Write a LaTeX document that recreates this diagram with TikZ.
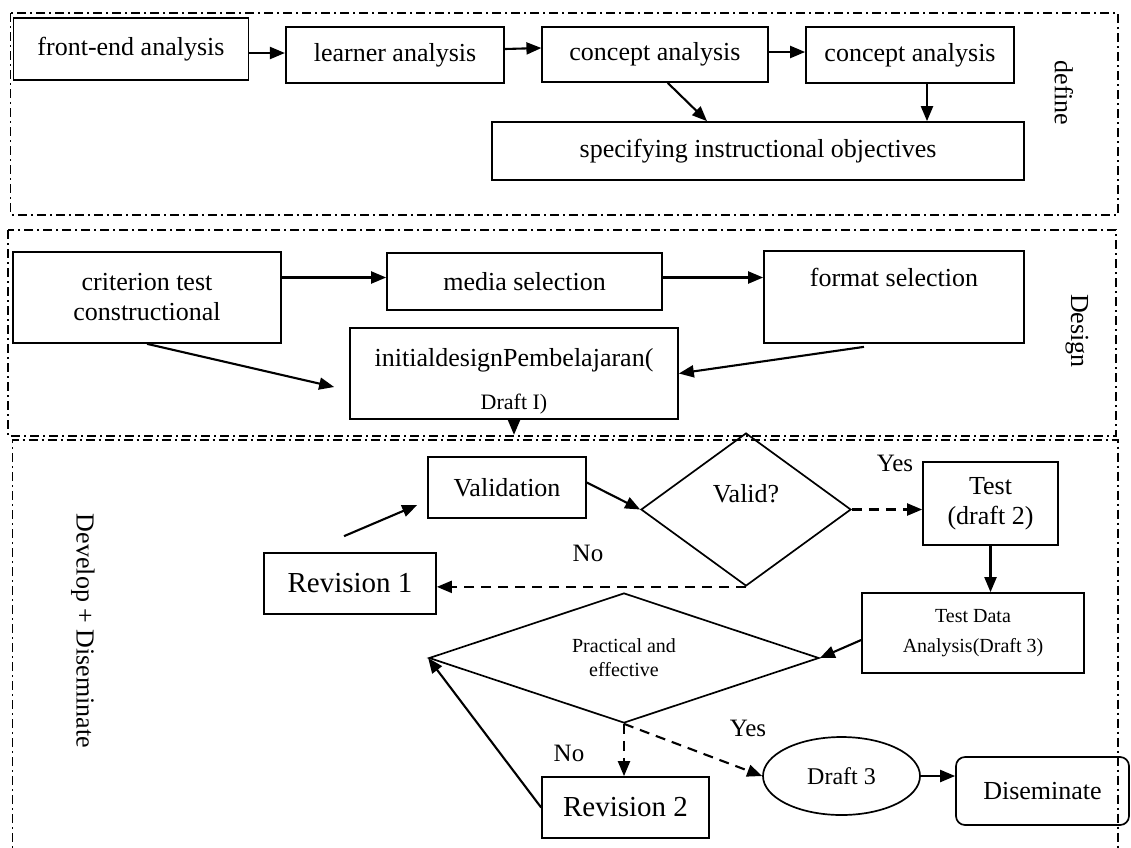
\documentclass[tikz,border=0pt]{standalone}
\usepackage{fontspec}
\setmainfont{Liberation Serif}
\usetikzlibrary{arrows.meta,shapes.geometric,calc}
\begin{document}
\begin{tikzpicture}[x=1pt,y=-1pt,
  every node/.style={font=\fontsize{26pt}{30pt}\selectfont, inner sep=0pt},
  box/.style={draw, line width=1.7pt, rectangle},
  dia/.style={draw, shape=diamond, line width=1.7pt, inner sep=0pt},
  frame/.style={line width=1.3pt, dash pattern=on 9pt off 4pt on 2pt off 4pt},
  arr/.style={line width=2.1pt, -{Triangle[length=15pt,width=12pt]}},
  darr/.style={arr, dash pattern=on 10pt off 7pt},
  lbl/.style={font=\fontsize{25pt}{30pt}\selectfont},
  big/.style={font=\fontsize{29pt}{34pt}\selectfont},
  small/.style={font=\fontsize{20pt}{30pt}\selectfont}
]
\fill[white] (0,0) rectangle (1131,847);
\useasboundingbox (0,0) rectangle (1131,847);

% ---------- frames ----------
\draw[frame] (10.8,13) rectangle (1118,215);
\draw[frame] (8,230) rectangle (1116,436);
\draw[frame] (12.6,880) -- (12.6,440) -- (1118,440) -- (1118,880);

% ---------- define ----------
\node[box, minimum width=235pt, minimum height=62pt] (front) at (131,49) {front-end analysis};
\node[box, minimum width=218.5pt, minimum height=56pt] (learner) at (395,55) {learner analysis};
\node[box, minimum width=225.5pt, minimum height=55pt] (ca1) at (655,54.5) {concept analysis};
\node[box, minimum width=208pt, minimum height=56pt] (ca2) at (910,55) {concept analysis};
\node[box, minimum width=532.5pt, minimum height=58pt] (spec) at (758,151) {specifying instructional objectives};
\node[rotate=-90] (define) at (1064,93) {define};

\draw[arr] ($(front.east)+(0,4)$) -- ($(learner.west)+(0,-2)$);
\draw[arr] ($(learner.east)+(0,-6)$) -- ($(ca1.west)+(0,-6.5)$);
\draw[arr] ($(ca1.east)+(0,-2.5)$) -- ($(ca2.west)+(0,-3)$);
\coordinate (c1s) at ($(ca1.south)+(12.7,0)$);
\coordinate (spn) at ($(spec.north)+(-51,0)$);
\draw[arr] (c1s) -- (spn);
\coordinate (c2s) at ($(ca2.south)+(17,0)$);
\draw[arr] (c2s) -- (c2s |- spec.north);

% ---------- design ----------
\node[box, minimum width=268pt, minimum height=91pt, align=center] (crit) at (147,297.5) {criterion test\\constructional};
\node[box, minimum width=275pt, minimum height=57pt] (media) at (524.5,281.5) {media selection};
\node[box, minimum width=260pt, text height=35pt, text depth=57pt] (format) at (894,297) {format selection};
\node[box, minimum width=328pt, minimum height=91pt, align=center] (init) at (514,373.5) {\rule{0pt}{34pt}initialdesignPembelajaran(\\[13pt]{\fontsize{22pt}{26pt}\selectfont Draft I)}};
\node[rotate=-90] (design) at (1077,331) {Design};

\draw[arr] ($(crit.east |- media.west)+(0,-4)$) -- ($(media.west)+(0,-4)$);
\draw[arr] ($(media.east)+(0,-4)$) -- ($(media.east -| format.west)+(0,-4)$);
\coordinate (iw) at ($(init.west)+(-15,13.5)$);
\draw[arr] (crit.south) -- (iw);
\coordinate (fs) at ($(format.south)+(-30,3)$);
\draw[arr] (fs) -- (init.east);
\coordinate (id) at ($(init.south)+(0,15)$);
\draw[arr] (init.south) -- (id);

% ---------- develop ----------
\node[box, minimum width=158pt, minimum height=61pt] (validation) at (507,487.5) {Validation};
\node[dia, minimum width=210pt, minimum height=153pt, text depth=32pt] (valid) at (746,509.5) {Valid?};
\node[box, big, minimum width=172pt, minimum height=61pt] (rev1) at (350,583.5) {Revision 1};
\node[box, minimum width=135pt, minimum height=83pt, align=center] (test) at (990.5,503.5) {Test\\(draft 2)};
\node[box, small, minimum width=222pt, minimum height=80pt, align=center] (tda) at (973,633) {Test Data\\Analysis(Draft 3)};
\node[dia, minimum width=390pt, minimum height=130pt, aspect=3, align=center, font=\fontsize{20pt}{24pt}\selectfont] (prac) at (624,658) {Practical and\\effective};
\node[box, big, minimum width=167pt, minimum height=61pt] (rev2) at (625.5,807.5) {Revision 2};
\node[draw, ellipse, line width=1.7pt, minimum width=157pt, minimum height=78pt, font=\fontsize{24pt}{28pt}\selectfont] (draft3) at (841.5,776) {Draft 3};
\node[box, rounded corners=9pt, minimum width=173pt, minimum height=68pt] (dis) at (1042.5,791) {Diseminate};
\node[rotate=-90] (devlbl) at (83,631) {Develop + Diseminate};

\node[lbl] (yes1) at (895,463) {Yes};
\node[lbl] (no1) at (588,553) {No};
\node[lbl] (no2) at (569,753) {No};
\node[lbl] (yes2) at (748,728) {Yes};

\coordinate (r1a) at ($(rev1.north)+(-6,-16)$);
\coordinate (vla) at ($(validation.west)+(-10,17.5)$);
\draw[arr] (r1a) -- (vla);
\draw[arr] ($(validation.east)+(0,-5)$) -- (valid.west);
\draw[darr] (valid.east) -- (valid.east -| test.west);
\draw[darr] (valid.south) -- (valid.south -| rev1.east);
\draw[arr] (test.south) -- (test.south |- tda.north);
\draw[arr] ($(tda.west)+(0,7)$) -- (prac.east);
\draw[darr] (prac.south) -- (prac.south |- rev2.north);
\draw[darr] (prac.south) -- (draft3.west);
\draw[arr] (draft3.east) -- (draft3.east -| dis.west);
\draw[arr] (rev2.west) -- (prac.west);
\end{tikzpicture}
\end{document}
